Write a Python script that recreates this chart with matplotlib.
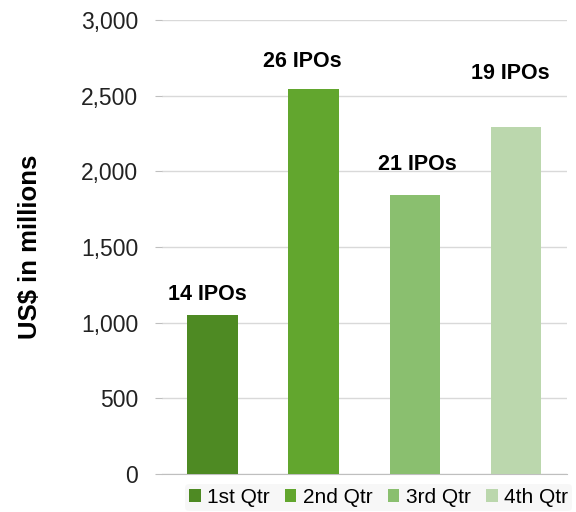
import matplotlib.pyplot as plt
from matplotlib.ticker import FuncFormatter

plt.rcParams['font.family'] = ['Liberation Sans', 'DejaVu Sans']

# data
quarters = ['1st Qtr', '2nd Qtr', '3rd Qtr', '4th Qtr']
values = [1050, 2545, 1845, 2290]
ipo_labels = ['14 IPOs', '26 IPOs', '21 IPOs', '19 IPOs']
colors = ['#4e8a23', '#62a62e', '#8abf6f', '#bbd7ad']

# label placement (offset from bar top, in points)
label_dx = [-4, -8, 2, -4]
label_dy = [15, 19.5, 21.5, 38.5]

fig = plt.figure(figsize=(5.76, 5.12), dpi=100)
ax = fig.add_axes([0.281, 0.074, 0.703, 0.887])

for i, (q, v, c) in enumerate(zip(quarters, values, colors)):
    ax.bar(i, v, width=0.5, color=c, label=q, zorder=3)
    ax.annotate(ipo_labels[i], (i, v), xytext=(label_dx[i], label_dy[i]),
                textcoords='offset points', ha='center', va='center',
                fontsize=15.5, fontweight='bold', color='black')

ax.set_xlim(-0.5, 3.5)
ax.set_ylim(0, 3000)
ax.set_yticks(range(0, 3001, 500))
ax.yaxis.set_major_formatter(FuncFormatter(lambda y, p: f'{int(y):,}'))
ax.set_xticks([])
ax.grid(axis='y', color='#d9d9d9', linewidth=1, zorder=0)
for s in ['top', 'right', 'left']:
    ax.spines[s].set_visible(False)
ax.spines['bottom'].set_color('#bfbfbf')
ax.tick_params(axis='y', length=5, color='#bfbfbf', labelsize=16.5,
               labelcolor='#222222', pad=12)
ax.set_ylabel('US$ in millions', fontsize=18.5, fontweight='bold', labelpad=28)

leg = ax.legend(loc='upper center', bbox_to_anchor=(0.535, -0.012), ncol=4,
                frameon=True, fontsize=15, handlelength=0.55, handleheight=0.55,
                handletextpad=0.3, columnspacing=0.75, borderaxespad=0.2,
                borderpad=0.2)
leg.get_frame().set_facecolor('#f6f6f6')
leg.get_frame().set_edgecolor('none')

plt.savefig('out.png', dpi=100)
